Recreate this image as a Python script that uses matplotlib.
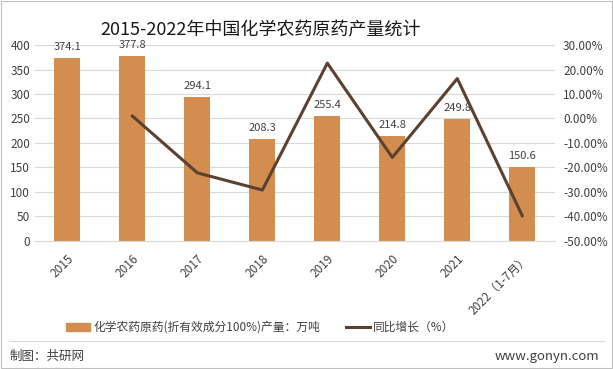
import matplotlib
matplotlib.use("Agg")
import matplotlib.pyplot as plt
from matplotlib.lines import Line2D
from matplotlib.patches import Rectangle

plt.rcParams['font.family'] = ['Noto Sans CJK SC', 'DejaVu Sans']

years = ["2015", "2016", "2017", "2018", "2019", "2020", "2021", "2022（1-7月）"]
output = [374.1, 377.8, 294.1, 208.3, 255.4, 214.8, 249.8, 150.6]
growth = [None, 0.99, -22.2, -29.2, 22.6, -15.9, 16.3, -39.7]

bar_color = "#D38D4F"
line_color = "#5A4130"
text_color = "#404040"

fig = plt.figure(figsize=(6.13, 3.69), dpi=100)
ax = fig.add_axes([0.057, 0.347, 0.848, 0.531])
ax2 = ax.twinx()

x = list(range(len(years)))
ax.bar(x, output, width=0.4, color=bar_color, zorder=2)
for xi, v in zip(x, output):
    ax.text(xi, v + 12, f"{v:.1f}", ha="center", va="bottom", fontsize=8, color=text_color)

ax.set_ylim(0, 400)
ax.set_yticks(range(0, 401, 50))
ax.set_xlim(-0.5, len(years) - 0.5)
ax.grid(axis="y", color="#D9D9D9", linewidth=0.8, zorder=0)
ax.set_axisbelow(True)
ax.set_xticks(x)
ax.set_xticklabels(years, rotation=45, ha="right", va="top", rotation_mode="anchor", fontsize=8.5, color=text_color)
ax.tick_params(axis="both", length=0, labelsize=8.5, colors=text_color)
ax.tick_params(axis="x", pad=8)
for s in ["top", "right", "left"]:
    ax.spines[s].set_visible(False)
ax.spines["bottom"].set_color("#D9D9D9")

gx = [xi for xi, g in zip(x, growth) if g is not None]
gy = [g for g in growth if g is not None]
ax2.plot(gx, gy, color=line_color, linewidth=2.2, zorder=3)
ax2.set_ylim(-50, 30)
ax2.set_yticks(range(-50, 31, 10))
ax2.set_yticklabels([f"{t:.2f}%" for t in range(-50, 31, 10)])
ax2.tick_params(axis="y", length=0, labelsize=8.5, colors=text_color, pad=6)
for s in ["top", "right", "left", "bottom"]:
    ax2.spines[s].set_visible(False)

fig.text(0.425, 0.918, "2015-2022年中国化学农药原药产量统计", ha="center", va="center", fontsize=13, color="#1a1a1a")

handles = [Rectangle((0, 0), 1, 1, color=bar_color), Line2D([0], [0], color=line_color, linewidth=2.2)]
fig.legend(handles, ["化学农药原药(折有效成分100%)产量：万吨", "同比增长（%）"],
           loc="center", bbox_to_anchor=(0.425, 0.113), ncol=2, frameon=False, fontsize=8.5,
           handlelength=2.0, handletextpad=0.3, columnspacing=2.2, labelcolor=text_color)

fig.add_artist(Line2D([0.015, 0.985], [0.076, 0.076], color="#D9D9D9", linewidth=0.8))
fig.text(0.016, 0.035, "制图：共研网", ha="left", va="center", fontsize=9, color=text_color)
fig.text(0.978, 0.035, "www.gonyn.com", ha="right", va="center", fontsize=9.5, color=text_color)
fig.add_artist(Rectangle((0.002, 0.003), 0.996, 0.994, fill=False, edgecolor="#BFBFBF", linewidth=0.8, transform=fig.transFigure))

fig.savefig("out.png", dpi=100)
